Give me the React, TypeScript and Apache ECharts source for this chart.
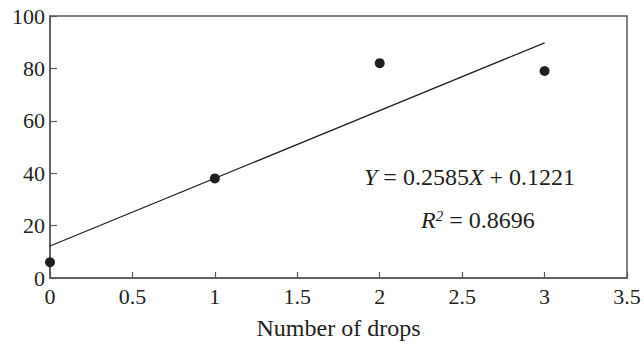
import React, { useEffect, useRef } from "react";
import * as echarts from "echarts";

const drops = [0, 1, 2, 3];
const percent = [6, 38, 82, 79];
const trendX = [0, 3];
const trendY = [12.21, 89.76];
const equationText = "{i|Y} = 0.2585{i|X} + 0.1221";
const r2Text = "{i|R}{s|2} = 0.8696";

const FONT = "'Liberation Serif', 'DejaVu Serif', serif";
const INK = "#231f20";
const AXIS = "#58595b";

export default function App() {
  const ref = useRef<HTMLDivElement>(null);
  useEffect(() => {
    if (!ref.current) return;
    const chart = echarts.init(ref.current, undefined, { renderer: "svg" });
    chart.setOption({
      animation: false,
      backgroundColor: "#fff",
      grid: {
        left: 50,
        right: 17,
        top: 16,
        bottom: 65,
        show: true,
        borderColor: AXIS,
        borderWidth: 1.5,
      },
      xAxis: {
        type: "value",
        min: 0,
        max: 3.5,
        interval: 0.5,
        name: "Number of drops",
        nameLocation: "middle",
        nameGap: 38,
        nameTextStyle: { fontFamily: FONT, fontSize: 24, color: INK },
        axisLine: { show: true, lineStyle: { color: AXIS, width: 1.5 } },
        axisTick: { show: true, inside: true, length: 6, lineStyle: { color: AXIS, width: 1.2 } },
        axisLabel: { fontFamily: FONT, fontSize: 22, color: INK, margin: 7 },
        splitLine: { show: false },
      },
      yAxis: {
        type: "value",
        min: 0,
        max: 100,
        interval: 20,
        axisLine: { show: true, lineStyle: { color: AXIS, width: 1.5 } },
        axisTick: { show: true, inside: true, length: 7, lineStyle: { color: AXIS, width: 1.2 } },
        axisLabel: { fontFamily: FONT, fontSize: 22, color: INK, margin: 5 },
        splitLine: { show: false },
      },
      series: [
        {
          type: "line",
          data: trendX.map((x, i) => [x, trendY[i]]),
          showSymbol: false,
          symbol: "none",
          lineStyle: { color: INK, width: 1.3 },
          silent: true,
        },
        {
          type: "scatter",
          data: drops.map((x, i) => [x, percent[i]]),
          symbol: "circle",
          symbolSize: 10,
          itemStyle: { color: INK, opacity: 1 },
        },
      ],
      graphic: [
        {
          type: "text",
          left: 364,
          top: 165,
          style: {
            text: equationText,
            fontFamily: FONT,
            fontSize: 24,
            fill: INK,
            rich: {
              i: { fontFamily: FONT, fontSize: 24, fontStyle: "italic", fill: INK },
            },
          },
        },
        {
          type: "text",
          left: 421,
          top: 208,
          style: {
            text: r2Text,
            fontFamily: FONT,
            fontSize: 24,
            fill: INK,
            rich: {
              i: { fontFamily: FONT, fontSize: 24, fontStyle: "italic", fill: INK },
              s: { fontFamily: FONT, fontSize: 15, fontStyle: "italic", fill: INK, verticalAlign: "top" },
            },
          },
        },
      ],
    });
    return () => chart.dispose();
  }, []);
  return <div ref={ref} style={{ width: 644, height: 345, position: "absolute", left: 0, top: 0 }} />;
}
